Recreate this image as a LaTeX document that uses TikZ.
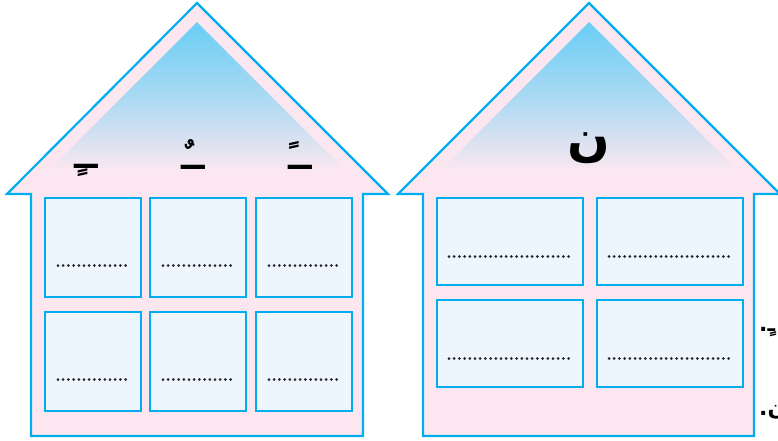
\documentclass[tikz,border=0pt]{standalone}
\usepackage{fontspec}
\newfontfamily\arabicfont[Script=Arabic]{DejaVu Sans}
\newfontfamily\arabicbold[Script=Arabic]{DejaVu Sans Bold}
\TeXXeTstate=1
\usetikzlibrary{positioning}
\definecolor{roofblue}{RGB}{0,174,239}
\definecolor{wallpink}{RGB}{252,231,240}
\definecolor{boxblue}{RGB}{238,246,253}
\definecolor{skyblue}{RGB}{104,206,245}

\begin{document}
\begin{tikzpicture}[
  x=1pt, y=-1pt,
  house/.style={draw=roofblue, fill=wallpink, line width=2.2pt, line join=miter},
  attic/.style={top color=skyblue, bottom color=wallpink, middle color=skyblue!55!wallpink},
  cell/.style={rectangle, draw=roofblue, fill=boxblue, line width=2pt, inner sep=0pt, anchor=north west},
  dotline/.style={line width=3pt, line cap=round, dash pattern=on 0pt off 5.2pt, black!85},
  haraka/.style={font=\arabicbold\fontsize{34}{34}\selectfont, inner sep=0pt}]

\useasboundingbox (0,0) rectangle (778,440);
\clip (0,0) rectangle (778,440);

% left house
\draw[house] (31,436) -- (31,194) -- (7,194) -- (197,3) -- (388,194) -- (363,194) -- (363,436) -- cycle;
\shade[attic] (197,22) -- (347,172) -- (47,172) -- cycle;

\foreach \c/\x in {0/44,1/149,2/255} {
  \foreach \r/\y in {0/197,1/311} {
    \node[cell, minimum width=96pt, minimum height=99pt] (l\r\c) at (\x,\y) {};
    \draw[dotline] ([xshift=-35pt,yshift=-18pt]l\r\c.center) -- ([xshift=35pt,yshift=-18pt]l\r\c.center);
  }
}

\node[haraka] (h0) at (86,170) {\beginR ــٍ\endR};
\node[haraka] (h1) at (193,155) {\beginR ــٌ\endR};
\node[haraka] (h2) at (300,155) {\beginR ــً\endR};

% right house
\draw[house] (423,436) -- (423,194) -- (398,194) -- (589,3) -- (780,194) -- (754,194) -- (754,436) -- cycle;
\shade[attic] (589,22) -- (739,172) -- (439,172) -- cycle;

\foreach \c/\x in {0/436,1/596} {
  \foreach \r/\y in {0/197,1/299} {
    \node[cell, minimum width=146pt, minimum height=87pt] (r\r\c) at (\x,\y) {};
    \draw[dotline] ([xshift=-61pt,yshift=-15pt]r\r\c.center) -- ([xshift=61pt,yshift=-15pt]r\r\c.center);
  }
}

\node[font=\arabicbold\fontsize{50}{50}\selectfont, inner sep=0pt] (nun) at (589,148) {\beginR ن\endR};

% cut-off text at the right edge
\node[font=\arabicbold\fontsize{22}{22}\selectfont, inner sep=0pt, anchor=west] (e0) at (759,332) {\beginR ـٍ.\endR};
\node[font=\arabicbold\fontsize{22}{22}\selectfont, inner sep=0pt, anchor=west] (e1) at (759,412) {\beginR ن.\endR};

\end{tikzpicture}
\end{document}
